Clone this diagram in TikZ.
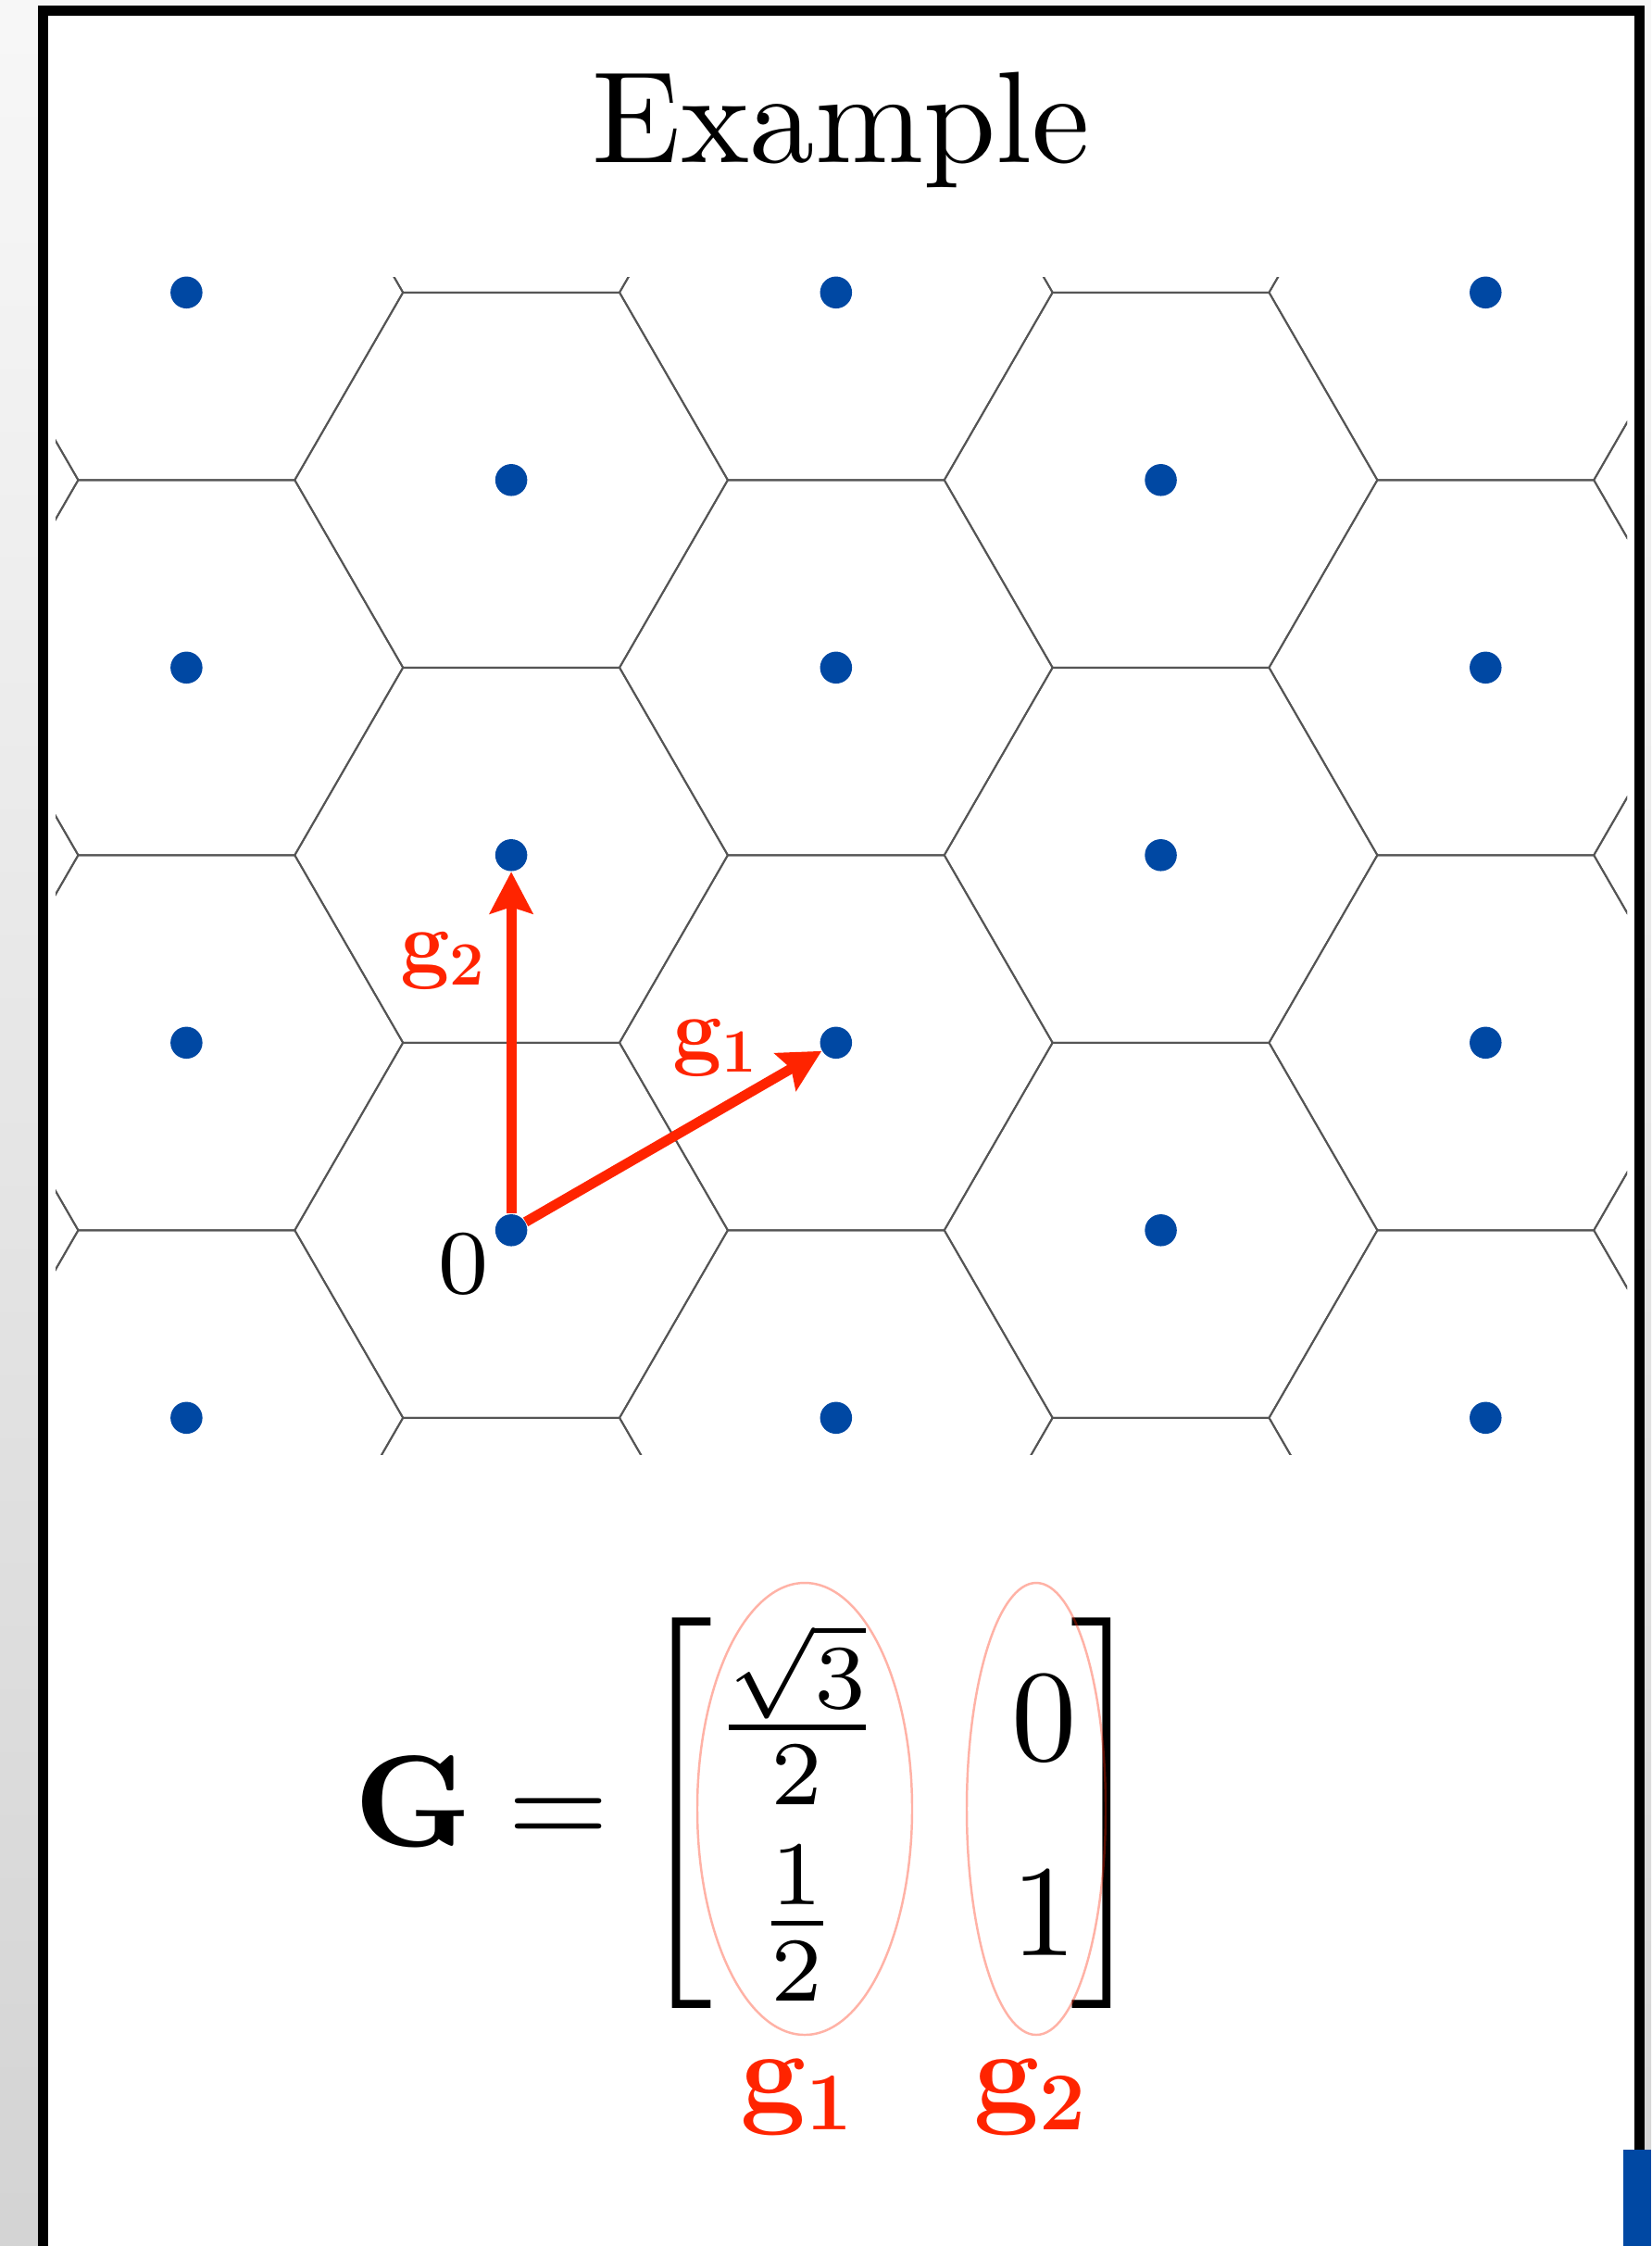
\RequirePackage{fix-cm}
\documentclass[tikz,border=0pt]{standalone}
\usepackage{amsmath}
\usepackage{graphicx}
\usetikzlibrary{arrows.meta,positioning,shapes.geometric}

\definecolor{dotblue}{RGB}{0,72,163}
\definecolor{vecred}{RGB}{255,36,0}
\definecolor{cellgray}{RGB}{85,85,85}
\newcommand{\zoomed}[1]{\scalebox{4}{#1}}

\begin{document}
\begin{tikzpicture}[
    dot/.style={circle, fill=dotblue, inner sep=0pt, minimum size=0.345cm},
    cell/.style={draw=cellgray, line width=0.55pt},
    vec/.style={-{Stealth[length=0.45cm, width=0.46cm, inset=0.07cm]},
                line width=0.108cm, vecred},
    ring/.style={ellipse, draw=vecred, draw opacity=0.35, line width=0.7pt,
                 inner sep=0pt},
    lbl/.style={inner sep=0pt, text=vecred}
]
\useasboundingbox (0,0) rectangle (17.83,-24.25);
\shade[top color=black!3, bottom color=black!17] (0,0) rectangle (17.83,-24.25);

% slide frame
\draw[line width=0.118cm, fill=white] (0.465,-0.115) rectangle (17.705,-24.8);
\node[anchor=base, inner sep=0pt] (title) at (9.085,-1.76) {\zoomed{Example}};

% lattice and its cells
\begin{scope}[shift={(5.521,-13.283)}, x=4.05cm, y=4.05cm]
  \begin{scope}
    \clip (-1.215,-0.597) rectangle (2.975,2.54);
    \foreach \m in {-2,...,4}
      \foreach \n in {-3,...,4}
        \draw[cell, shift={(\m*0.8660,\m*0.5+\n)}]
          (0:0.57735) -- (60:0.57735) -- (120:0.57735) -- (180:0.57735)
          -- (240:0.57735) -- (300:0.57735) -- cycle;
  \end{scope}
  \foreach \m/\lo/\hi in {-1/0/3, 0/0/2, 1/-1/2, 2/-1/1, 3/-2/1}
    \foreach \n in {\lo,...,\hi}
      \node[dot] (dot-\m-\n) at (\m*0.8660,\m*0.5+\n) {};

  \draw[vec] (dot-0-0) -- (dot-1-0);
  \draw[vec] (dot-0-0) -- (dot-0-1);

  \node[inner sep=0pt] (lab-0) at (-0.128,-0.091) {\zoomed{\scriptsize$0$}};
  \node[lbl, anchor=base west, font=\fontsize{27}{32}\selectfont] (lab-g2)
       at (-0.298,0.689) {$\mathbf{g_2}$};
  \node[lbl, anchor=base west, font=\fontsize{27}{32}\selectfont] (lab-g1)
       at (0.428,0.456) {$\mathbf{g_1}$};
\end{scope}

% generator matrix
\node[anchor=base west, inner sep=0pt] (eq) at (3.82,-19.93)
     {\zoomed{$\mathbf{G} =\mkern-1.2mu \begin{bmatrix}
      \frac{\sqrt{3}}{2} & 0\mkern-0.8mu \\[3pt]
      \frac{1}{2} & 1\mkern-0.8mu \end{bmatrix}$}};
\node[ring, minimum width=2.32cm, minimum height=4.88cm] (ring1) at (8.69,-19.53) {};
\node[ring, minimum width=1.50cm, minimum height=4.88cm] (ring2) at (11.19,-19.53) {};
\node[lbl, below=0.25cm of ring1, xshift=-0.08cm, font=\fontsize{36}{43}\selectfont]
     (col-g1) {$\mathbf{g_1}$};
\node[lbl, below=0.25cm of ring2, xshift=-0.06cm, font=\fontsize{36}{43}\selectfont]
     (col-g2) {$\mathbf{g_2}$};

\fill[dotblue] (17.53,-23.21) rectangle (17.83,-24.25);
\end{tikzpicture}
\end{document}
